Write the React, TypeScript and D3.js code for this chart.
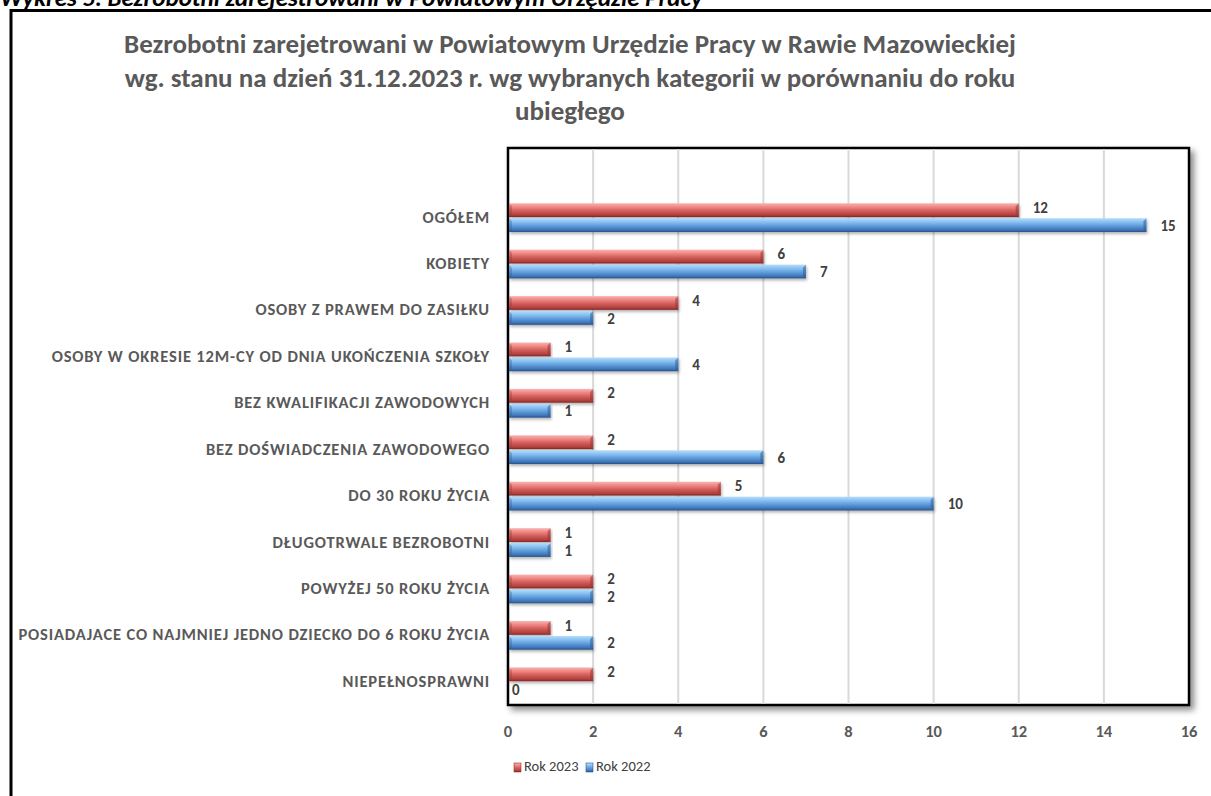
import React from 'react';
import * as d3 from 'd3';

const categories = [
  'OGÓŁEM',
  'KOBIETY',
  'OSOBY Z PRAWEM DO ZASIŁKU',
  'OSOBY  W OKRESIE 12M-CY OD DNIA UKOŃCZENIA SZKOŁY',
  'BEZ KWALIFIKACJI ZAWODOWYCH',
  'BEZ DOŚWIADCZENIA ZAWODOWEGO',
  'DO 30 ROKU ŻYCIA',
  'DŁUGOTRWALE BEZROBOTNI',
  'POWYŻEJ 50 ROKU ŻYCIA',
  'POSIADAJACE CO NAJMNIEJ JEDNO DZIECKO DO 6 ROKU ŻYCIA',
  'NIEPEŁNOSPRAWNI',
];
const rok2023 = [12, 6, 4, 1, 2, 2, 5, 1, 2, 1, 2];
const rok2022 = [15, 7, 2, 4, 1, 6, 10, 1, 2, 2, 0];
const seriesNames = ['Rok 2023', 'Rok 2022'];
const xTicks = [0, 2, 4, 6, 8, 10, 12, 14, 16];
const titleLines = [
  'Bezrobotni zarejetrowani w Powiatowym Urzędzie Pracy w Rawie Mazowieckiej',
  'wg. stanu na dzień 31.12.2023 r. wg wybranych kategorii w porównaniu do roku',
  'ubiegłego',
];
const heading = 'Wykres 5. Bezrobotni zarejestrowani w Powiatowym Urzędzie Pracy';

const W = 1211;
const H = 796;
const font = 'Calibri, Carlito, "Open Sans", sans-serif';
const gray = '#595959';

const plot = { left: 508, right: 1189, top: 148, bottom: 705 };

export default function App() {
  const x = d3.scaleLinear().domain([0, 16]).range([plot.left, plot.right]);
  // Excel leaves an empty slot at the top of the category axis
  const y = d3.scaleBand<string>()
    .domain(['_empty', ...categories])
    .range([plot.top, plot.bottom])
    .paddingInner(0.33)
    .paddingOuter(0.165);
  const inner = d3.scaleBand<string>()
    .domain(seriesNames)
    .range([0, y.bandwidth()])
    .padding(0.08);

  const series = [
    { name: seriesNames[0], values: rok2023, grad: 'gRed', dark: '#953735' },
    { name: seriesNames[1], values: rok2022, grad: 'gBlue', dark: '#2c5d96' },
  ];

  return (
    <svg width={W} height={H} style={{ position: 'absolute', left: 0, top: 0, background: '#fff' }}
      fontFamily={font}>
      <defs>
        <linearGradient id="gRed" x1="0" y1="0" x2="0" y2="1">
          <stop offset="0" stopColor="#f9b3b1" />
          <stop offset="0.25" stopColor="#f08a87" />
          <stop offset="0.55" stopColor="#d25e5b" />
          <stop offset="0.85" stopColor="#b2403d" />
          <stop offset="1" stopColor="#7e2624" />
        </linearGradient>
        <linearGradient id="gBlue" x1="0" y1="0" x2="0" y2="1">
          <stop offset="0" stopColor="#b6dcfa" />
          <stop offset="0.25" stopColor="#8cc3f2" />
          <stop offset="0.55" stopColor="#5f9ddb" />
          <stop offset="0.85" stopColor="#3f74b6" />
          <stop offset="1" stopColor="#254f85" />
        </linearGradient>
        <filter id="plotShadow" x="-5%" y="-5%" width="115%" height="115%">
          <feDropShadow dx="4" dy="4" stdDeviation="3" floodColor="#000" floodOpacity="0.45" />
        </filter>
        <filter id="barShadow" x="-5%" y="-50%" width="110%" height="220%">
          <feDropShadow dx="1" dy="2" stdDeviation="1.5" floodColor="#000" floodOpacity="0.3" />
        </filter>
      </defs>

      {/* cut-off heading above the frame */}
      <text x={0} y={6} fontSize={25} fontWeight="bold" fontStyle="italic" fill="#000">{heading}</text>

      {/* outer frame */}
      <rect x={11} y={10.5} width={W + 20} height={H + 20} fill="none" stroke="#000" strokeWidth={3} />

      {/* title */}
      {titleLines.map((t, i) => (
        <text key={i} x={570} y={53 + i * 33.5} textAnchor="middle" fontSize={27} fontWeight="bold" fill={gray}>{t}</text>
      ))}

      {/* plot area */}
      <rect x={plot.left} y={plot.top} width={plot.right - plot.left} height={plot.bottom - plot.top}
        fill="#fff" stroke="#000" strokeWidth={2.5} filter="url(#plotShadow)" />

      {xTicks.slice(1, -1).map(t => (
        <line key={t} x1={x(t)} x2={x(t)} y1={plot.top + 1} y2={plot.bottom - 1} stroke="#d9d9d9" strokeWidth={2} />
      ))}

      {/* bars */}
      {categories.map((c, ci) => (
        <g key={c}>
          {series.map(s => {
            const v = s.values[ci];
            const by = (y(c) as number) + (inner(s.name) as number);
            const bh = inner.bandwidth();
            const bx = x(0) + 1;
            const bw = Math.max(0, x(v) - bx);
            if (bw <= 0) return null;
            const b = 3;
            return (
              <g key={s.name} filter="url(#barShadow)">
                <rect x={bx} y={by} width={bw} height={bh} fill={`url(#${s.grad})`} />
                {/* bevelled end */}
                <path d={`M${bx + bw - b},${by + b} L${bx + bw},${by} L${bx + bw},${by + bh} L${bx + bw - b},${by + bh - b} Z`}
                  fill={s.dark} opacity={0.55} />
                <path d={`M${bx},${by} L${bx + b},${by + b} L${bx + b},${by + bh - b} L${bx},${by + bh} Z`}
                  fill={s.dark} opacity={0.35} />
              </g>
            );
          })}
        </g>
      ))}

      {/* value labels */}
      {categories.map((c, ci) => series.map((s, si) => {
        const v = s.values[ci];
        const by = (y(c) as number) + (inner(s.name) as number) + inner.bandwidth() / 2;
        return (
          <text key={c + s.name} x={x(v) + (v === 0 ? 4 : 14)} y={by + (si === 0 ? -1 : 2)}
            dominantBaseline="middle" fontSize={15} fontWeight="bold" fill="#404040">{v}</text>
        );
      }))}

      {/* category labels */}
      {categories.map(c => (
        <text key={c} x={490} y={(y(c) as number) + y.bandwidth() / 2 + 1} textAnchor="end"
          dominantBaseline="middle" fontSize={16.5} fontWeight="600" fill={gray} letterSpacing={0.85}>{c}</text>
      ))}

      {/* x tick labels */}
      {xTicks.map(t => (
        <text key={t} x={x(t)} y={733} textAnchor="middle" dominantBaseline="middle"
          fontSize={16.5} fontWeight="bold" fill={gray}>{t}</text>
      ))}

      {/* legend */}
      {series.map((s, i) => {
        const lx = 514 + i * 72;
        return (
          <g key={s.name}>
            <rect x={lx} y={763} width={7} height={9} fill={`url(#${s.grad})`} stroke={s.dark} strokeWidth={0.6} />
            <text x={lx + 10} y={768} dominantBaseline="middle" fontSize={14.5} fill="#404040">{s.name}</text>
          </g>
        );
      })}
    </svg>
  );
}
